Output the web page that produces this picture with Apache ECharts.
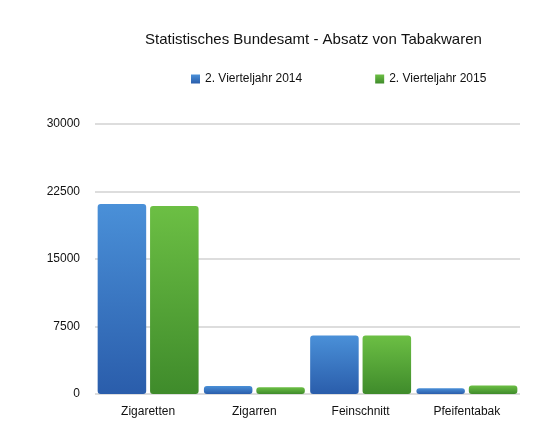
<!DOCTYPE html>
<html>
<head>
<meta charset="utf-8">
<script src="https://cdn.jsdelivr.net/npm/echarts@6/dist/echarts.min.js"></script>
<style>
  html, body { margin: 0; padding: 0; background: #fff; }
  #chart { width: 560px; height: 436px; }
</style>
</head>
<body>
<div id="chart"></div>
<script>
const categories = ['Zigaretten', 'Zigarren', 'Feinschnitt', 'Pfeifentabak'];
const q2of2014 = [21100, 900, 6500, 650];
const q2of2015 = [20900, 750, 6500, 950];
const seriesNames = ['2. Vierteljahr 2014', '2. Vierteljahr 2015'];

function grad(top, bottom) {
  return new echarts.graphic.LinearGradient(0, 0, 0, 1, [
    { offset: 0, color: top },
    { offset: 1, color: bottom },
  ]);
}

const chart = echarts.init(document.getElementById('chart'));
chart.setOption({
  backgroundColor: '#fff',
  title: {
    text: 'Statistisches Bundesamt - Absatz von Tabakwaren',
    left: 140,
    top: 27,
    textStyle: { fontFamily: 'Liberation Sans', fontSize: 15, fontWeight: 'normal', color: '#111' },
  },
  legend: {
    left: 186,
    top: 68,
    itemWidth: 9,
    itemHeight: 9,
    itemGap: 73,
    icon: 'rect',
    textStyle: { fontFamily: 'Liberation Sans', fontSize: 12, color: '#111' },
  },
  grid: { left: 95, right: 40, top: 124, bottom: 42 },
  xAxis: {
    type: 'category',
    data: categories,
    axisLine: { show: false },
    axisTick: { show: false },
    axisLabel: { color: '#111', fontFamily: 'Liberation Sans', fontSize: 12, margin: 12 },
  },
  yAxis: {
    type: 'value',
    min: 0,
    max: 30000,
    interval: 7500,
    axisLine: { show: false },
    axisTick: { show: false },
    axisLabel: { color: '#111', fontFamily: 'Liberation Sans', fontSize: 12, margin: 15, formatter: (v) => String(v) },
    splitLine: { lineStyle: { color: '#d2d2d2', width: 1.5 } },
  },
  series: [
    {
      name: seriesNames[0],
      type: 'bar',
      data: q2of2014,
      barGap: '8%',
      barCategoryGap: '5%',
      itemStyle: { color: grad('#4a90d8', '#2a5dab'), borderRadius: 3 },
    },
    {
      name: seriesNames[1],
      type: 'bar',
      data: q2of2015,
      itemStyle: { color: grad('#6cbf44', '#3f8b2b'), borderRadius: 3 },
    },
  ],
});
</script>
</body>
</html>
